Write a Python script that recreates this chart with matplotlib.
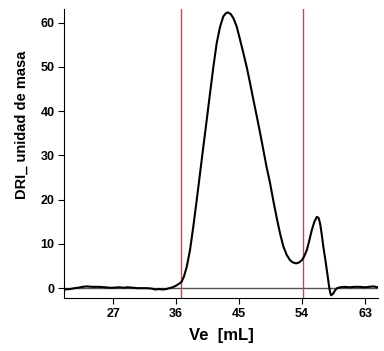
import matplotlib
matplotlib.use("Agg")
import matplotlib.pyplot as plt

plt.rcParams['font.family'] = ['Liberation Sans', 'DejaVu Sans']

# elution volume (mL) and DRI signal
ve = [20.0, 20.8, 21.5, 22.0, 22.6, 23.2, 24.0, 24.6, 25.0, 25.8, 26.5, 27.0,
      27.8, 28.5, 29.0, 29.8, 30.5, 31.0, 31.8, 32.5, 33.0, 33.6, 34.0, 34.6,
      35.0, 35.3, 35.6, 35.9, 36.2, 36.5, 36.79, 37.1, 37.5, 37.97, 38.44,
      38.93, 39.4, 39.88, 40.36, 40.83, 41.31, 41.79, 42.26, 42.73, 43.1,
      43.41, 43.8, 44.17, 44.65, 45.13, 45.6, 46.1, 46.56, 47.0, 47.52, 48.0,
      48.46, 48.9, 49.42, 49.9, 50.38, 50.85, 51.32, 51.8, 52.28, 52.7, 53.14,
      53.55, 53.95, 54.3, 54.67, 55.0, 55.38, 55.75, 56.1, 56.35, 56.57, 56.8,
      57.04, 57.3, 57.53, 57.7, 57.86, 58.0, 58.14, 58.4, 58.71, 59.0, 59.43,
      60.0, 60.8, 61.5, 62.2, 63.0, 63.6, 64.2, 64.8]
dri = [-0.3, -0.2, 0.0, 0.1, 0.3, 0.4, 0.3, 0.3, 0.3, 0.2, 0.1, 0.1,
       0.2, 0.1, 0.2, 0.1, 0.0, 0.0, 0.0, -0.1, -0.3, -0.2, -0.3, -0.2,
       0.0, 0.1, 0.3, 0.5, 0.8, 1.1, 1.5, 2.6, 4.8, 8.6, 13.9,
       19.9, 25.9, 32.0, 38.0, 44.0, 50.0, 55.4, 59.0, 61.4, 62.1,
       62.3, 61.9, 61.0, 59.1, 56.1, 53.1, 49.8, 46.3, 42.8, 38.8, 35.0,
       31.2, 27.5, 23.7, 19.6, 15.8, 12.3, 9.4, 7.5, 6.3, 5.8, 5.6,
       5.8, 6.3, 7.2, 8.6, 10.6, 13.1, 15.0, 16.1, 15.9, 14.6, 12.2,
       9.3, 6.6, 4.1, 2.2, 0.3, -0.9, -1.6, -1.3, -0.5, 0.0, 0.2,
       0.3, 0.2, 0.3, 0.3, 0.2, 0.3, 0.4, 0.2]

limits = [36.7, 54.1]
xticks = [27, 36, 45, 54, 63]
yticks = [0, 10, 20, 30, 40, 50, 60]

fig = plt.figure(figsize=(3.84, 3.51), dpi=100)
ax = fig.add_axes([0.1675, 0.150, 0.816, 0.8235])

ax.axhline(0, color='#555555', linewidth=1.0, zorder=1)
for v in limits:
    ax.axvline(v, color='#e8393c', linewidth=1.0, zorder=2)
ax.plot(ve, dri, color='black', linewidth=1.5, zorder=3)

ax.set_xlim(20.0, 64.8)
ax.set_ylim(-2.3, 63.0)
ax.set_xticks(xticks)
ax.set_yticks(yticks)
ax.tick_params(length=4, width=0.8, labelsize=9, pad=3)
for lab in ax.get_xticklabels() + ax.get_yticklabels():
    lab.set_fontweight('bold')

ax.spines['top'].set_visible(False)
ax.spines['right'].set_visible(False)

ax.set_xlabel('Ve  [mL]', fontsize=12, fontweight='bold', labelpad=6)
ax.set_ylabel('DRI_ unidad de masa', fontsize=10.5, fontweight='bold', labelpad=9)
ax.yaxis.set_label_coords(-0.115, 0.60)

fig.savefig('out.png', dpi=100)
